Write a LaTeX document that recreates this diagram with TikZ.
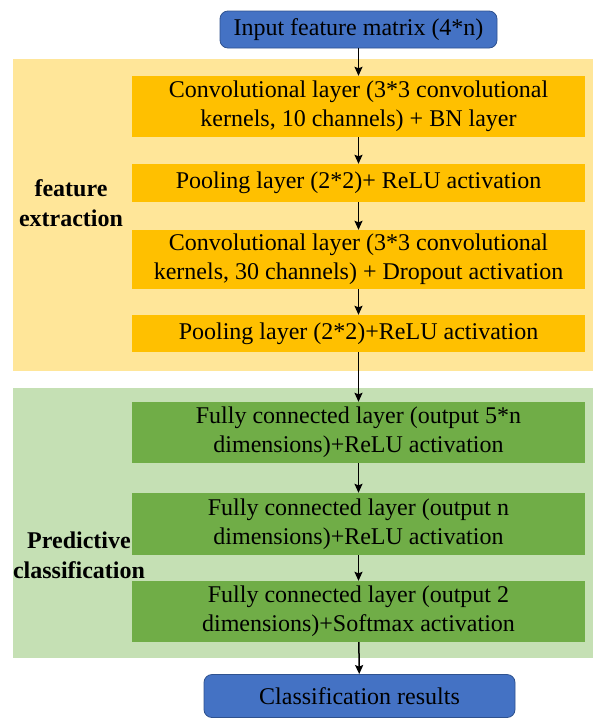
\documentclass[tikz,border=0pt]{standalone}
\usepackage{fontspec}
\setmainfont{Liberation Serif}
\usetikzlibrary{arrows.meta}
\definecolor{regY}{HTML}{FFE699}
\definecolor{boxY}{HTML}{FFC000}
\definecolor{regG}{HTML}{C5E0B4}
\definecolor{boxG}{HTML}{70AD47}
\definecolor{blueF}{HTML}{4472C4}
\definecolor{blueD}{HTML}{2F528F}
\begin{document}
\begin{tikzpicture}[x=1pt,y=-1pt,
  txt/.style={font=\fontsize{24}{29}\selectfont, align=center, inner sep=0pt},
  layerbox/.style={txt, minimum width=453pt},
  ybox/.style={layerbox, fill=boxY},
  gbox/.style={layerbox, fill=boxG},
  bluebox/.style={txt, fill=blueF, draw=blueD, line width=0.8pt, rounded corners=8pt},
  region/.style={inner sep=0pt, anchor=north west},
  lab/.style={font=\fontsize{24}{30}\selectfont\bfseries, align=center, inner sep=0pt},
  arr/.style={-{Stealth[length=9pt,width=8pt,inset=1.5pt]}, line width=1.5pt, black}
]
\useasboundingbox (0,0) rectangle (593,718);
% regions
\node[region, fill=regY, minimum width=580pt, minimum height=312pt] (fe) at (13,59) {};
\node[region, fill=regG, minimum width=580pt, minimum height=270pt] (pc) at (13,388) {};
% nodes
\node[bluebox, minimum width=277pt, minimum height=37pt] (in) at (358.5,29.5) {Input feature matrix (4*n)};
\node[ybox, minimum height=61pt] (c1) at (358.5,106.5) {Convolutional layer (3*3 convolutional\\kernels, 10 channels) + BN layer};
\node[ybox, minimum height=38pt] (p1) at (358.5,183) {Pooling layer (2*2)+ ReLU activation};
\node[ybox, minimum height=59pt] (c2) at (358.5,259.5) {Convolutional layer (3*3 convolutional\\kernels, 30 channels) + Dropout activation};
\node[ybox, minimum height=37pt] (p2) at (358.5,333.5) {Pooling layer (2*2)+ReLU activation};
\node[gbox, minimum height=61pt] (f1) at (358.5,432.5) {Fully connected layer (output 5*n\\dimensions)+ReLU activation};
\node[gbox, minimum height=62pt] (f2) at (358.5,524) {Fully connected layer (output n\\dimensions)+ReLU activation};
\node[gbox, minimum height=61pt] (f3) at (358.5,611.5) {Fully connected layer (output 2\\dimensions)+Softmax activation};
\node[bluebox, minimum width=311pt, minimum height=43pt] (out) at (359.5,696) {Classification results};
% labels
\node[lab] (lfe) at (71,203) {feature\\extraction};
\node[lab] (lpc) at (79,555) {Predictive\\classification};
% arrows
\draw[arr] (in) -- (c1);
\draw[arr] (c1) -- (p1);
\draw[arr] (p1) -- (c2);
\draw[arr] (c2) -- (p2);
\draw[arr] (p2) -- (f1);
\draw[arr] (f1) -- (f2);
\draw[arr] (f2) -- (f3);
\draw[arr] (f3) -- (out);
\end{tikzpicture}
\end{document}
